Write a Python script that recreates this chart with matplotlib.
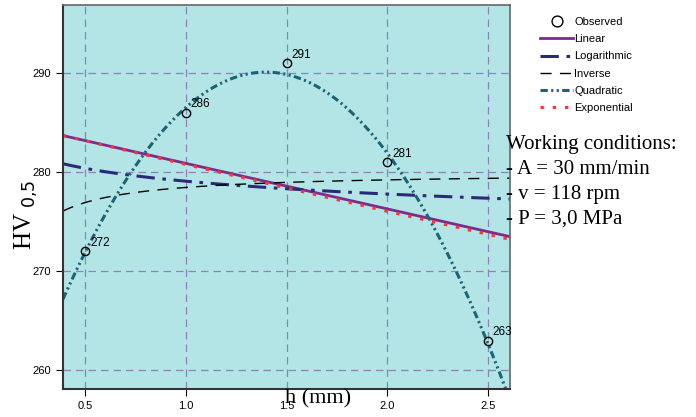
import matplotlib.pyplot as plt
import numpy as np

# observed hardness against depth
h_mm = [0.5, 1.0, 1.5, 2.0, 2.5]
hv = [272, 286, 291, 281, 263]
point_labels = ["272", "286", "291", "281", "263"]

conditions = ["Working conditions:", "- A = 30 mm/min", "- v = 118 rpm", "- P = 3,0 MPa"]

x = np.array(h_mm)
y = np.array(hv, dtype=float)
xs = np.linspace(0.39, 2.61, 300)

# curve estimation fits
lin = np.polyfit(x, y, 1)
quad = np.polyfit(x, y, 2)
logc = np.polyfit(np.log(x), y, 1)
invc = np.polyfit(1 / x, y, 1)
expc = np.polyfit(x, np.log(y), 1)

fig = plt.figure(figsize=(6.96, 4.17), dpi=100)
ax = fig.add_axes([63 / 696, 1 - 389 / 417, 447 / 696, 384 / 417])
ax.set_facecolor("#b3e5e6")

ax.plot(x, y, "o", mfc="none", mec="black", ms=6, mew=1.0, label="Observed", zorder=5)
ax.plot(xs, np.polyval(lin, xs), color="#7b2d8b", lw=2.0, label="Linear")
ax.plot(xs, np.polyval(logc, np.log(xs)), color="#2b2a78", lw=2.2,
        dashes=(6, 2.5, 1.2, 2.5), label="Logarithmic")
ax.plot(xs, np.polyval(invc, 1 / xs), color="black", lw=1.0,
        dashes=(8, 6), label="Inverse")
ax.plot(xs, np.polyval(quad, xs), color="#1b6475", lw=2.2,
        dashes=(2.4, 1.1, 0.7, 1.1, 0.7, 1.1), label="Quadratic")
ax.plot(xs, np.exp(np.polyval(expc, xs)), color="#ff3333", lw=2.2,
        dashes=(1.1, 2.9), label="Exponential")

for xi, yi, t in zip(h_mm, hv, point_labels):
    ax.annotate(t, (xi, yi), xytext=(3.5, 4), textcoords="offset points",
                fontsize=8.5, family="Liberation Sans")

ax.set_xlim(0.39, 2.61)
ax.set_ylim(258.1, 296.9)
ax.set_xticks([0.5, 1.0, 1.5, 2.0, 2.5])
ax.set_yticks([260, 270, 280, 290])
ax.grid(True, color="#8a84bb", linestyle=(0, (6, 4)), lw=0.9)
ax.tick_params(labelsize=8, length=5, direction="out")
for lab in ax.get_xticklabels() + ax.get_yticklabels():
    lab.set_family("Liberation Sans")
for s in ["left", "bottom"]:
    ax.spines[s].set_color("#333333")
    ax.spines[s].set_linewidth(1.5)
for s in ["top", "right"]:
    ax.spines[s].set_color("#666666")
    ax.spines[s].set_linewidth(1.2)

fig.text(318 / 696, 1 - 399 / 417, "h (mm)", ha="center", va="center",
         fontsize=16, family="Liberation Serif")
fig.text(26 / 696, 1 - 215 / 417, r"HV$_{\ \mathrm{0{,}5}}$", ha="center", va="center",
         rotation=90, fontsize=18, family="Liberation Serif")

ypos = [145, 170, 195, 219]
for t, yp in zip(conditions, ypos):
    fig.text(506 / 696, 1 - yp / 417, t, ha="left", va="center",
             fontsize=15, family="Liberation Serif")

leg = fig.legend(loc="upper left", bbox_to_anchor=(530 / 696, 1 - 7 / 417),
                 frameon=False, handlelength=3.0, markerscale=1.3,
                 handletextpad=0.1, labelspacing=0.65,
                 prop={"family": "Liberation Sans", "size": 8})

fig.savefig("out.png", dpi=100)
